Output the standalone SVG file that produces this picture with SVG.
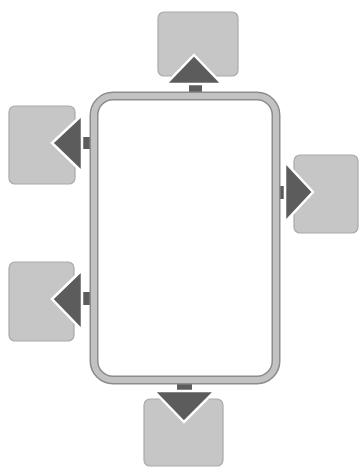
<svg xmlns="http://www.w3.org/2000/svg" width="359" height="468" viewBox="0 0 359 468">
<style>
.box{fill:#c6c6c6;stroke:#a9a9a9;stroke-width:1.2}
.shaft{fill:#5c5c5c}
.head{fill:#5c5c5c;stroke:#ffffff;stroke-width:2.5;stroke-linejoin:miter}
.headedge{fill:none;stroke:#9a9a9a;stroke-width:0.8}
</style>
<rect width="359" height="468" fill="#ffffff"/>
<g id="node-top"><rect class="box" x="158" y="12" width="80" height="64" rx="6"/></g>
<g id="node-left-top"><rect class="box" x="9" y="106" width="66" height="78" rx="6"/></g>
<g id="node-right"><rect class="box" x="294" y="155" width="64" height="78" rx="6"/></g>
<g id="node-left-bottom"><rect class="box" x="9" y="262" width="65" height="79" rx="6"/></g>
<g id="node-bottom"><rect class="box" x="144" y="399" width="79" height="67" rx="6"/></g>
<g id="connectors">
  <rect class="shaft" x="189" y="82" width="13" height="12"/>
  <polygon class="head" points="194,55 222,84 166,84"/>
  <rect class="shaft" x="80" y="137" width="12" height="12"/>
  <polygon class="head" points="52,143 82,115 82,172"/>
  <rect class="shaft" x="278" y="186" width="9" height="13"/>
  <polygon class="head" points="313,192 285,162 285,222"/>
  <rect class="shaft" x="80" y="292" width="12" height="13"/>
  <polygon class="head" points="52,299 82,270 82,330"/>
  <rect class="shaft" x="177" y="382" width="15" height="10"/>
  <polygon class="head" points="184,422 154,391 215,391"/>
</g>
<g id="node-main">
  <rect x="94" y="96" width="182" height="284" rx="19" fill="#ffffff" stroke="#8c8c8c" stroke-width="9"/>
  <rect x="94" y="96" width="182" height="284" rx="19" fill="none" stroke="#c2c2c2" stroke-width="6"/>
</g>
</svg>
